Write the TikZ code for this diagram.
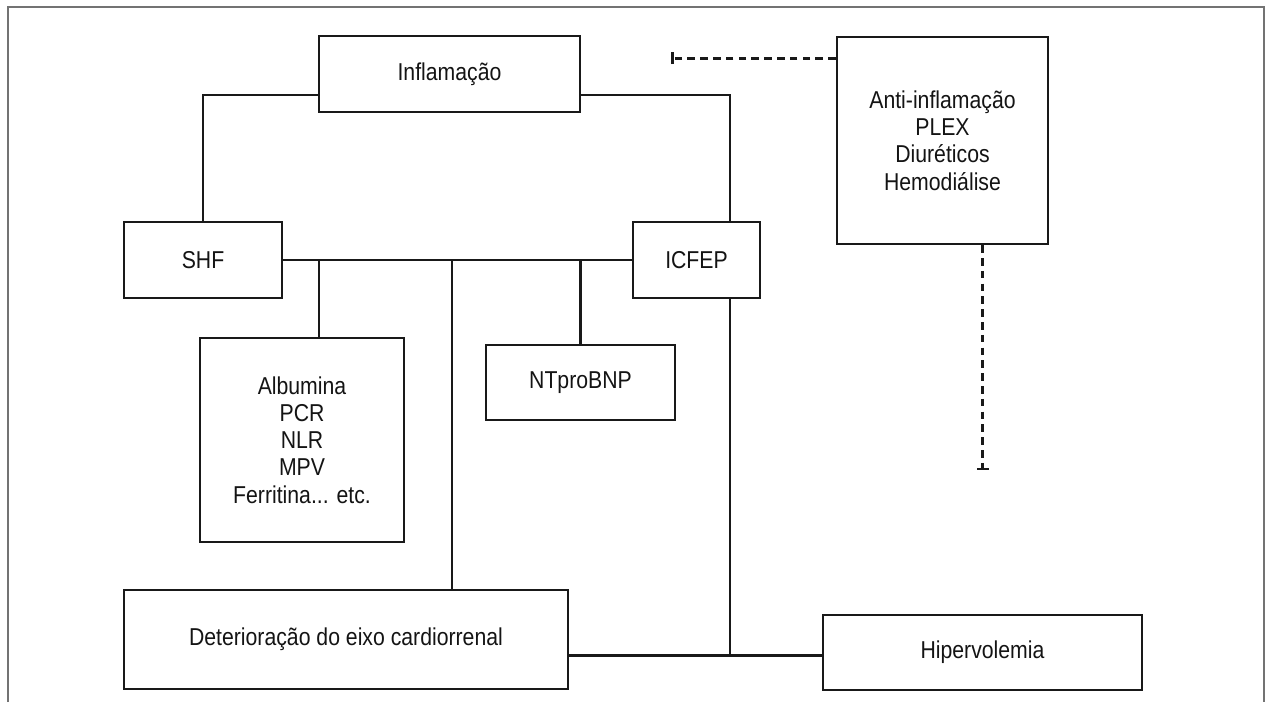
\documentclass[tikz,border=0pt]{standalone}
\usepackage{fontspec}
\setmainfont{Liberation Sans}[FakeStretch=0.87]
\usepackage{tikz}
\usetikzlibrary{arrows.meta,positioning,calc}

\begin{document}
\begin{tikzpicture}[x=0.5pt,y=-0.5pt,
        every node/.style={block},
        block/.style={draw=black!90,line width=1.25pt,rectangle,align=center,inner sep=0pt,
          font=\fontsize{12.2}{13.6}\selectfont,text=black!92},
        link/.style={draw=black!90,line width=1.25pt},
        stopline/.style={link,line width=1.5pt,dash pattern=on 3.8pt off 2.6pt,-{Bar[width=6pt,line width=1.25pt]}}]
   \useasboundingbox (0,0) rectangle (1269,702);
   \draw[black!55,line width=0.6pt] (8,702) |- (1264,7) -- (1264,702);

   \node (INF) [minimum width=130.5pt,minimum height=38pt] at (449.5,74) {Inflamação};
   \node (ANTI) [minimum width=105.5pt,minimum height=103.5pt] at (942.5,140.5)
      {Anti-inflamação\\PLEX\\Diuréticos\\Hemodiálise};
   \node (SHF) [minimum width=79pt,minimum height=38pt] at (203,260) {SHF};
   \node (ICFEP) [minimum width=63.5pt,minimum height=38pt] at (696.5,260) {ICFEP};
   \node (ALB) [minimum width=102pt,minimum height=102pt] at (302,440)
      {Albumina\\PCR\\NLR\\MPV\\Ferritina... etc.};
   \node (NT) [minimum width=94.5pt,minimum height=37.5pt] at (580.5,382.5) {NTproBNP};
   \node (DET) [minimum width=222pt,minimum height=49.5pt] at (346,639.5) {Deterioração do eixo cardiorrenal};
   \node (HIP) [minimum width=159.5pt,minimum height=37.5pt] at (982.5,652.5) {Hipervolemia};

   \coordinate (T1) at (671,58);
   \coordinate (T2) at (982.5,470);

   \draw[link] ([yshift=-10.5pt]INF.west) -| (SHF.north);
   \draw[link] ([yshift=-10.5pt]INF.east) -| ([xshift=16.75pt]ICFEP.north);
   \draw[link] (SHF.east) -- (ICFEP.west);
   \draw[link] ([xshift=8.5pt]ALB.north) -- ([xshift=8.5pt]ALB.north |- SHF.east);
   \draw[link] ([xshift=53pt]DET.north) -- ([xshift=53pt]DET.north |- SHF.east);
   \draw[link] (NT.north) -- (NT.north |- SHF.east);
   \draw[link] ([yshift=-1.5pt]DET.east |- HIP.west) -- ([yshift=-1.5pt]HIP.west);
   \draw[link] ([xshift=16.75pt]ICFEP.south) -- ([xshift=16.75pt,yshift=-1.5pt]ICFEP.south |- HIP.west);

   \draw[stopline] (ANTI.west |- T1) -- (T1);
   \draw[stopline] (ANTI.south -| HIP.north) -- (T2);

\end{tikzpicture}
\end{document}
